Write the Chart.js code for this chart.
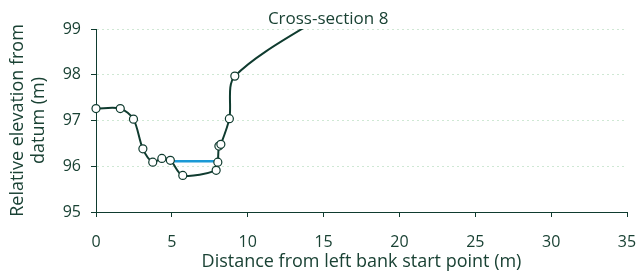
<!DOCTYPE html>
<html>
<head>
<meta charset="utf-8">
<script src="https://cdn.jsdelivr.net/npm/chart.js@4.4.1/dist/chart.umd.min.js"></script>
<style>
  html, body { margin: 0; padding: 0; background: #fff; }
  #wrap { width: 637px; height: 273px; }
</style>
</head>
<body>
<div id="wrap"><canvas id="crossSection"></canvas></div>
<script>
// surveyed bed profile, distance (m) vs elevation (m)
var distance = [0, 1.6, 2.47, 3.09, 3.74, 4.34, 4.9, 5.72, 7.92, 8.03, 8.1, 8.23, 8.79, 9.15, 16];
var elevation = [97.26, 97.26, 97.03, 96.38, 96.09, 96.17, 96.13, 95.8, 95.91, 96.09, 96.44, 96.48, 97.04, 97.97, 99.5];
// water surface
var waterDistance = [4.9, 8.03];
var waterLevel = [96.11, 96.11];
var xTicks = [0, 5, 10, 15, 20, 25, 30, 35];
var yTicks = [95, 96, 97, 98, 99];

var ink = '#0f3b2f';
var textColor = '#1a4234';
var font = '"Open Sans", sans-serif';

function toPoints(xs, ys) {
    var pts = [];
    for (var i = 0; i < xs.length; i++) pts.push({x: xs[i], y: ys[i]});
    return pts;
}

var titlePlugin = {
    id: 'sectionTitle',
    afterDraw: function(chart) {
        var ctx = chart.ctx;
        var xs = chart.scales.x;
        ctx.save();
        ctx.font = '17px ' + font;
        ctx.fillStyle = textColor;
        ctx.textAlign = 'center';
        ctx.textBaseline = 'middle';
        ctx.fillText('Cross-section 8', xs.getPixelForValue(15.3), 19);
        ctx.restore();
    }
};

new Chart(document.getElementById('crossSection'), {
    type: 'scatter',
    data: {
        datasets: [
            {
                label: 'Water',
                data: toPoints(waterDistance, waterLevel),
                showLine: true,
                borderColor: '#1b9ad6',
                borderWidth: 2.5,
                pointRadius: 0,
                order: 2
            },
            {
                label: 'Bed',
                data: toPoints(distance, elevation),
                showLine: true,
                borderColor: ink,
                borderWidth: 2,
                tension: 0.3,
                pointRadius: 4,
                pointBackgroundColor: '#fff',
                pointBorderColor: ink,
                pointBorderWidth: 1.2,
                clip: { left: 8, top: 0, right: 0, bottom: 8 },
                order: 1
            }
        ]
    },
    options: {
        responsive: true,
        maintainAspectRatio: false,
        animation: false,
        layout: { padding: { top: 29, right: 10, left: 0, bottom: 0 } },
        plugins: {
            legend: { display: false },
            tooltip: { enabled: false }
        },
        scales: {
            x: {
                type: 'linear',
                min: 0, max: 35,
                afterBuildTicks: function(axis) { axis.ticks = xTicks.map(function(v) { return {value: v}; }); },
                afterFit: function(axis) {
                    axis.height = 61;
                    axis.paddingLeft = 0;
                    axis.paddingRight = 0;
                },
                grid: { drawOnChartArea: false, color: ink, tickLength: 5, tickColor: ink },
                border: { color: ink, width: 1 },
                ticks: { color: textColor, font: { family: font, size: 16 }, padding: 16 },
                title: {
                    display: true,
                    text: 'Distance from left bank start point (m)',
                    color: textColor,
                    font: { family: font, size: 18 },
                    padding: { top: 0, bottom: 0 }
                }
            },
            y: {
                min: 95, max: 99,
                afterBuildTicks: function(axis) { axis.ticks = yTicks.map(function(v) { return {value: v}; }); },
                afterFit: function(axis) { axis.width = 96; },
                grid: {
                    color: '#cfe8d4',
                    tickLength: 5,
                    tickColor: ink,
                    tickBorderDash: []
                },
                border: { color: ink, width: 1, dash: [2, 3] },
                ticks: { color: textColor, font: { family: font, size: 16 }, padding: 10 },
                title: {
                    display: true,
                    text: ['Relative elevation from', 'datum (m)'],
                    color: textColor,
                    font: { family: font, size: 18, lineHeight: 1.15 },
                    padding: { top: 8, bottom: 0 }
                }
            }
        }
    },
    plugins: [titlePlugin]
});
</script>
</body>
</html>
